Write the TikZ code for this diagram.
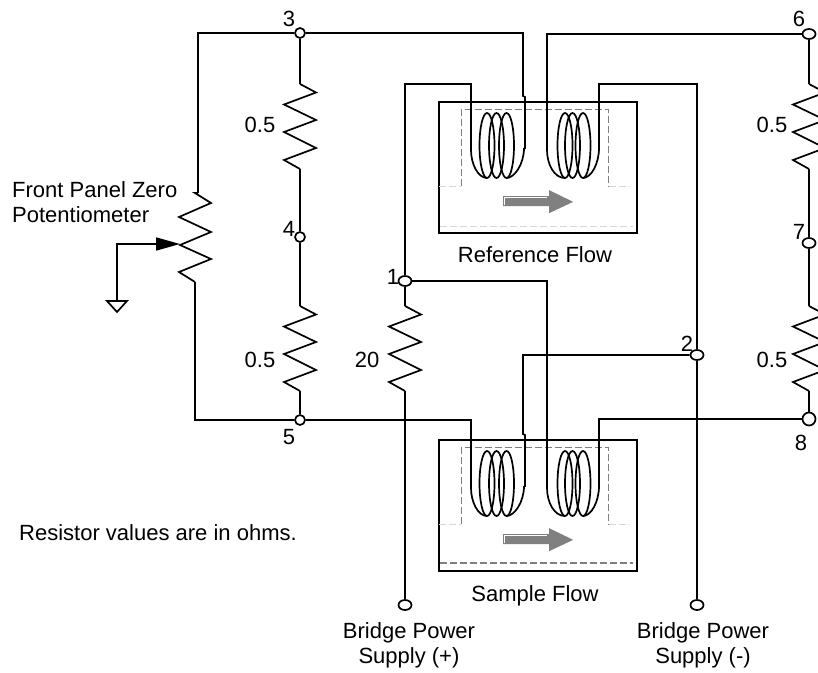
\documentclass[tikz,border=0pt]{standalone}
\usepackage{fontspec}
\setmainfont{Liberation Sans}
\usetikzlibrary{positioning}
\usetikzlibrary{shapes}
\usetikzlibrary{arrows.meta}
\definecolor{dashgray}{RGB}{128,128,128}
\definecolor{faintgray}{RGB}{215,215,215}
\tikzset{
    wire/.style={draw=black, line width=1.7pt},
    terminal/.style={shape=circle, draw=black, line width=1.7pt, fill=white, inner sep=0pt, minimum size=10pt},
    wideterminal/.style={shape=ellipse, draw=black, line width=1.7pt, fill=white, inner sep=0pt, minimum width=13pt, minimum height=10pt},
    lbl/.style={inner sep=0pt, font=\fontsize{22}{25}\selectfont},
    cellbox/.style={shape=rectangle, draw=black, line width=1.7pt, inner sep=0pt, minimum width=198pt, minimum height=131pt},
    pics/zigzag/.style={code={
        \draw[wire, line join=miter] (0,0) -- (16,8.5) -- (-16,20.5) -- (16,36) -- (-16,48) -- (16,64) -- (-16,76) -- (0,85);
    }},
    pics/coil/.style args={#1/#2/#3/#4}{code={
        \draw[wire] (#1,-4.5) ellipse [x radius=7.5, y radius=32.5];
        \draw[wire] (#2,-4.5) ellipse [x radius=7.5, y radius=32.5];
        \draw[wire] (#3,-4.5) ellipse [x radius=7.5, y radius=32.5];
        \draw[wire] (0,0) .. controls (0,14) and (7,28) .. (#1,28);
        \draw[wire] (#4,-2) .. controls (#4,14) and (#3+8,28) .. (#3,28);
    }},
    pics/flowcell/.style={code={
        \draw[dashgray, line width=1.3pt, dash pattern=on 7pt off 3pt] (23,85) -- (23,8.5) -- (170.5,8.5) -- (170.5,85);
        \draw[faintgray, line width=0.8pt, dash pattern=on 7pt off 3pt] (1,85) -- (23,85);
        \draw[faintgray, line width=0.8pt, dash pattern=on 7pt off 3pt] (170.5,85) -- (191,85);
        \fill[dashgray] (65,95) -- (111,95) -- (111,89) -- (135,100.7) -- (111,112) -- (111,105) -- (65,105) -- cycle;
        \draw[white, line width=0.8pt] (66.5,103.5) -- (66.5,96.5) -- (109,96.5);
    }}
}
\begin{document}
\begin{tikzpicture}[x=1pt, y=-1pt]
    \useasboundingbox (0,0) rectangle (818,672);
    \clip (0,0) rectangle (818,672);

    % terminals
    \node[terminal] (n3) at (300,33) {};
    \node[terminal] (n4) at (300,237) {};
    \node[terminal] (n5) at (300,420) {};
    \node[wideterminal] (n6) at (809,34) {};
    \node[wideterminal] (n7) at (809,243) {};
    \node[terminal, minimum size=13pt] (n8) at (809,419) {};
    \node[wideterminal] (n1) at (405,281) {};
    \node[wideterminal] (n2) at (697,355) {};
    \node[wideterminal] (plus) at (405,605) {};
    \node[wideterminal] (minus) at (697,605) {};

    % flow cells
    \node[cellbox] (refcell) at (538,167.5) {};
    \node[cellbox] (samcell) at (538,505.5) {};
    \path (refcell.north west) pic {flowcell};
    \path (samcell.north west) pic {flowcell};
    \draw[faintgray, line width=0.8pt, dash pattern=on 7pt off 3pt] (440,226) -- (633,226);
    \draw[dashgray, line width=1.3pt, dash pattern=on 7pt off 3pt] (440,563) -- (633,563);

    % coil leads
    \coordinate (ref1a) at (471,150);
    \coordinate (ref1b) at (524,148);
    \coordinate (ref2a) at (547,150);
    \coordinate (ref2b) at (599,148);
    \coordinate (sam1a) at (471,488);
    \coordinate (sam1b) at (524,486);
    \coordinate (sam2a) at (547,488);
    \coordinate (sam2b) at (599,486);
    \path (ref1a) pic {coil={16/25.5/35.5/53}};
    \path (ref2a) pic {coil={18/25.5/36/52}};
    \path (sam1a) pic {coil={16/25.5/35.5/53}};
    \path (sam2a) pic {coil={18/25.5/36/52}};

    % resistors
    \coordinate (r1a) at (300,84);
    \coordinate (r1b) at (300,169);
    \coordinate (r2a) at (300,306);
    \coordinate (r2b) at (300,391);
    \coordinate (r3a) at (809,84);
    \coordinate (r3b) at (809,169);
    \coordinate (r4a) at (809,306);
    \coordinate (r4b) at (809,391);
    \coordinate (r5a) at (405,306);
    \coordinate (r5b) at (405,391);
    \path (r1a) pic {zigzag};
    \path (r2a) pic {zigzag};
    \path (r3a) pic {zigzag};
    \path (r4a) pic {zigzag};
    \path (r5a) pic {zigzag};

    \draw[wire] (n3) -- (r1a);
    \draw[wire] (r1b) -- (n4);
    \draw[wire] (n4) -- (r2a);
    \draw[wire] (r2b) -- (n5);
    \draw[wire] (n6) -- (r3a);
    \draw[wire] (r3b) -- (n7);
    \draw[wire] (n7) -- (r4a);
    \draw[wire] (r4b) -- (n8);
    \draw[wire] (n1) -- (r5a);
    \draw[wire] (r5b) -- (plus);

    % potentiometer
    \coordinate (potTop) at (198,193);
    \coordinate (potBot) at (195,282);
    \coordinate (wiper) at (180,244);
    \coordinate (gnd) at (117,301);
    \draw[wire] (potTop) -- (195,193) -- (211,203) -- (179,217) -- (211,232) -- (180,245) -- (211,259) -- (179,272) -- (potBot);
    \draw[wire] (n3) -| (potTop);
    \draw[wire] (n5) -| (potBot);
    \draw[wire, -{Stealth[length=24pt, width=13pt, inset=0pt]}] (gnd) |- (wiper);
    \draw[wire, line join=miter] (gnd) -- ++(-10,0) -- ++(10,11) -- ++(10,-11) -- cycle;

    % bridge wiring
    \coordinate (refJog) at (523,96);
    \coordinate (samJog) at (523,434);
    \coordinate (topLeft) at (405,84);
    \coordinate (topRight) at (697,84);
    \draw[wire] (n3) -| (refJog) -- ++(2,1) -- ++(0,51) -- (ref1b);
    \draw[wire] (n6) -| (ref2a);
    \draw[wire] (ref1a) |- (topLeft) -- (n1);
    \draw[wire] (ref2b) |- (topRight) -- (n2);
    \draw[wire] (n1) -| (sam2a);
    \draw[wire] (n2) -| (samJog) -- ++(2,1) -- ++(0,51) -- (sam1b);
    \draw[wire] (n5) -| (sam1a);
    \draw[wire] (n8) -| (sam2b);
    \draw[wire] (n2) -- (minus);

    % labels
    \node[lbl] (t3) at (289,19) {3};
    \node[lbl] (t4) at (289,229) {4};
    \node[lbl] (t5) at (289,437) {5};
    \node[lbl] (t6) at (799,19) {6};
    \node[lbl] (t7) at (799,232) {7};
    \node[lbl] (t8) at (801,443) {8};
    \node[lbl] (t1) at (393,277) {1};
    \node[lbl] (t2) at (687,344) {2};
    \node[lbl] (v1) at (260,125) {0.5};
    \node[lbl] (v2) at (260,360) {0.5};
    \node[lbl] (v3) at (772,125) {0.5};
    \node[lbl] (v4) at (772,360) {0.5};
    \node[lbl] (v5) at (367,360) {20};
    \node[lbl] (reflabel) at (535,255) {Reference Flow};
    \node[lbl] (samlabel) at (535,596) {Sample Flow};
    \node[lbl, align=center] (pluslabel) at (409,645.5) {Bridge Power\\Supply (+)};
    \node[lbl, align=center] (minuslabel) at (703,645.5) {Bridge Power\\Supply (-)};
    \node[lbl, align=left, anchor=west] (potlabel) at (12,202) {Front Panel Zero\\Potentiometer};
    \node[lbl, anchor=west] (note) at (19,533) {Resistor values are in ohms.};
\end{tikzpicture}
\end{document}
